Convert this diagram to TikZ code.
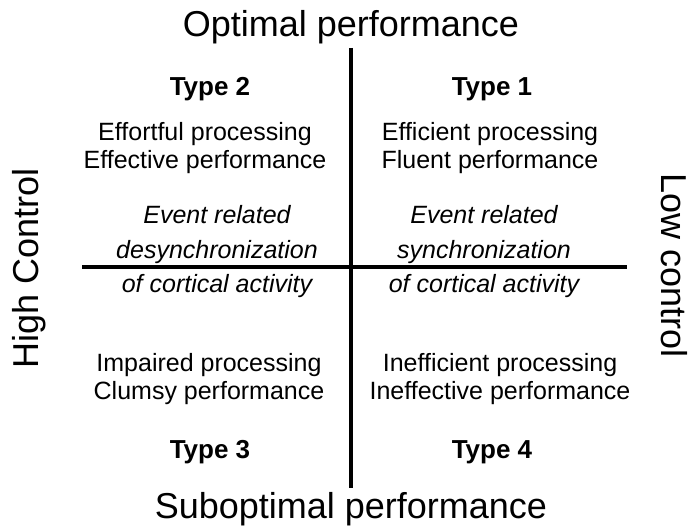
\documentclass[tikz,border=0pt]{standalone}
\usepackage{fontspec}
\setmainfont{Liberation Sans}
\usetikzlibrary{positioning}
\tikzset{
  axislbl/.style={font=\fontsize{36}{40}\selectfont, inner sep=0pt, anchor=base},
  typelbl/.style={font=\fontsize{26}{28}\selectfont\bfseries, inner sep=0pt, anchor=base},
  desc/.style={font=\fontsize{25}{28}\selectfont, align=center, inner sep=0pt, anchor=base},
  erd/.style={font=\fontsize{25}{34.5}\selectfont\itshape, align=center, inner sep=0pt, anchor=base},
  axisline/.style={line width=4pt},
}
\begin{document}
\begin{tikzpicture}[x=1pt,y=-1pt]
  \useasboundingbox (0,0) rectangle (689,529);
  % outer labels
  \node[axislbl] (opt) at (351,37) {Optimal performance};
  \node[axislbl] (subopt) at (351,519) {Suboptimal performance};
  \node[axislbl,rotate=90] (high) at (38,268) {High Control};
  \node[axislbl,rotate=-90] (low) at (661,266) {Low control};
  % axes
  \coordinate (top) at (351,48);
  \coordinate (bot) at (351,488);
  \coordinate (lft) at (82,267);
  \coordinate (rgt) at (627,267);
  \draw[axisline] (top) -- (bot);
  \draw[axisline] (lft) -- (rgt);
  % quadrants (base = last line)
  \node[typelbl] (t2) at (210,96) {Type 2};
  \node[typelbl] (t1) at (492,96) {Type 1};
  \node[typelbl] (t3) at (210,459) {Type 3};
  \node[typelbl] (t4) at (492,459) {Type 4};
  \node[desc] (q2) at (205,169) {Effortful processing\\Effective performance};
  \node[desc] (q1) at (490,169) {Efficient processing\\Fluent performance};
  \node[desc] (q3) at (209,400) {Impaired processing\\Clumsy performance};
  \node[desc] (q4) at (500,400) {Inefficient processing\\Ineffective performance};
  \node[erd] (desync) at (217,293) {Event related\\desynchronization\\of cortical activity};
  \node[erd] (sync) at (484,293) {Event related\\synchronization\\of cortical activity};
\end{tikzpicture}
\end{document}
